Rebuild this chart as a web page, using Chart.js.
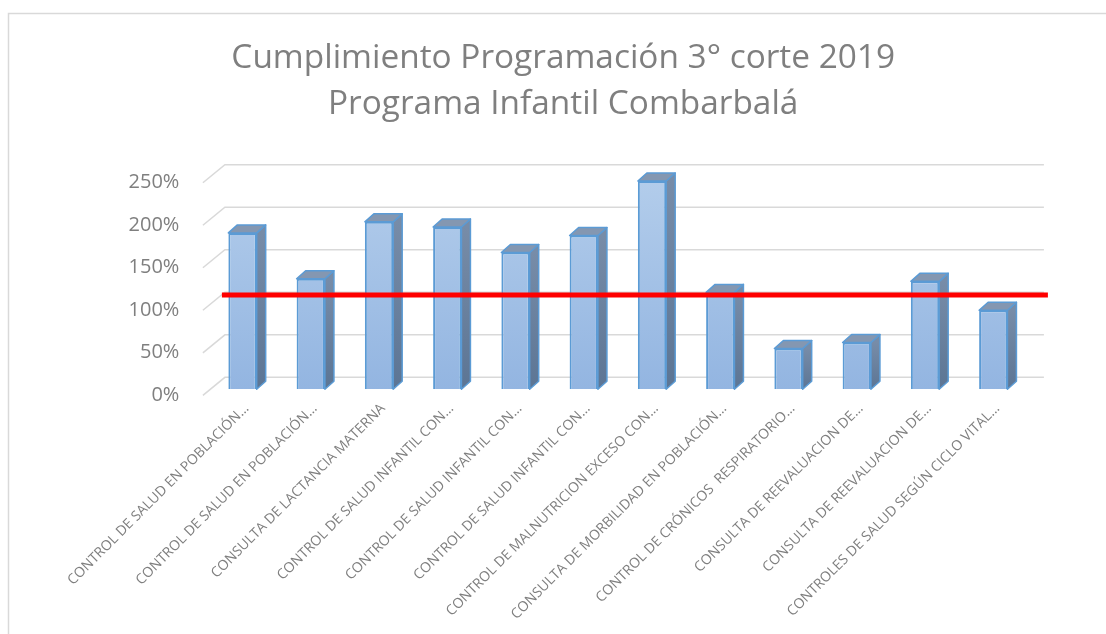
<!DOCTYPE html>
<html>
<head>
<meta charset="utf-8">
<script src="https://cdn.jsdelivr.net/npm/chart.js@4.4.0/dist/chart.umd.min.js"></script>
<style>
  html, body { margin: 0; padding: 0; background: #fff; }
</style>
</head>
<body>
<canvas id="grafico" width="1106" height="634"></canvas>
<script>
// Datos
const titulo = ['Cumplimiento Programación 3° corte 2019', 'Programa Infantil Combarbalá'];
const categorias = [
    'CONTROL DE SALUD EN POBLACIÓN…',
    'CONTROL DE SALUD EN POBLACIÓN…',
    'CONSULTA DE LACTANCIA MATERNA',
    'CONTROL DE SALUD INFANTIL CON…',
    'CONTROL DE SALUD INFANTIL CON…',
    'CONTROL DE SALUD INFANTIL CON…',
    'CONTROL DE MALNUTRICION EXCESO CON…',
    'CONSULTA DE MORBILIDAD EN POBLACIÓN…',
    'CONTROL DE CRÓNICOS  RESPIRATORIO…',
    'CONSULTA DE REEVALUACION DE…',
    'CONSULTA DE REEVALUACION DE…',
    'CONTROLES DE SALUD SEGÚN CICLO VITAL…'
];
const cumplimiento = [1.84, 1.30, 1.97, 1.91, 1.61, 1.81, 2.45, 1.14, 0.48, 0.55, 1.27, 0.93];
const meta = 1.11;
const ticksY = [0, 0.5, 1, 1.5, 2, 2.5];

const gris = '#7f7f7f';
const azulBorde = '#5b9bd5';

// Fondo y marco del gráfico
const marco = {
    id: 'marco',
    beforeDraw(chart) {
        const ctx = chart.ctx;
        ctx.save();
        ctx.fillStyle = '#fff';
        ctx.fillRect(0, 0, chart.width, chart.height);
        ctx.strokeStyle = '#d9d9d9';
        ctx.lineWidth = 1.5;
        ctx.strokeRect(8.5, 13.5, chart.width + 20, chart.height + 20);
        ctx.restore();
    }
};

// Rejilla en perspectiva, caras 3D de las barras y línea de meta
const efecto3d = {
    id: 'efecto3d',
    beforeDatasetsDraw(chart) {
        const { ctx, chartArea: a, scales: { y } } = chart;
        ctx.save();
        ctx.strokeStyle = '#d9d9d9';
        ctx.lineWidth = 1.5;
        y.ticks.forEach(t => {
            const py = y.getPixelForValue(t.value);
            ctx.beginPath();
            ctx.moveTo(a.left - 5.5, py + 6);
            ctx.lineTo(a.left + 16.5, py - 12);
            ctx.lineTo(a.right + 16.5, py - 12);
            ctx.stroke();
        });

        const dx = 9, dy = -8;
        ctx.lineWidth = 1.5;
        ctx.lineJoin = 'round';
        ctx.strokeStyle = azulBorde;
        chart.getDatasetMeta(0).data.forEach(bar => {
            const { x, y: top, base, width } = bar.getProps(['x', 'y', 'base', 'width'], true);
            const l = x - width / 2, r = x + width / 2;

            // cara lateral
            const gLat = ctx.createLinearGradient(0, top, 0, base);
            gLat.addColorStop(0, '#778ca8');
            gLat.addColorStop(1, '#5c7594');
            ctx.beginPath();
            ctx.moveTo(r, top);
            ctx.lineTo(r + dx, top + dy);
            ctx.lineTo(r + dx, base + dy);
            ctx.lineTo(r, base);
            ctx.closePath();
            ctx.fillStyle = gLat;
            ctx.fill();
            ctx.stroke();

            // cara superior
            ctx.beginPath();
            ctx.moveTo(l, top);
            ctx.lineTo(l + dx, top + dy);
            ctx.lineTo(r + dx, top + dy);
            ctx.lineTo(r, top);
            ctx.closePath();
            ctx.fillStyle = '#8497b1';
            ctx.fill();
            ctx.stroke();
        });
        ctx.restore();
    },
    afterDatasetsDraw(chart) {
        const { ctx, chartArea: a, scales: { y } } = chart;
        const py = y.getPixelForValue(meta);
        ctx.save();
        ctx.strokeStyle = '#ff0000';
        ctx.lineWidth = 5;
        ctx.beginPath();
        ctx.moveTo(a.left + 13.5, py);
        ctx.lineTo(a.right + 20.5, py);
        ctx.stroke();
        ctx.restore();
    }
};

new Chart(document.getElementById('grafico'), {
    type: 'bar',
    data: {
        labels: categorias,
        datasets: [{
            data: cumplimiento,
            backgroundColor: context => {
                const area = context.chart.chartArea;
                if (!area) return '#a4c2e6';
                const g = context.chart.ctx.createLinearGradient(0, area.top, 0, area.bottom);
                g.addColorStop(0, '#b3cdeb');
                g.addColorStop(1, '#93b5e1');
                return g;
            },
            borderColor: azulBorde,
            borderWidth: 2,
            categoryPercentage: 1,
            barPercentage: 0.415
        }]
    },
    options: {
        responsive: false,
        animation: false,
        devicePixelRatio: 1,
        layout: { padding: { left: 99, right: 78.6, top: 0, bottom: 0 } },
        plugins: {
            legend: { display: false },
            tooltip: { enabled: false },
            title: {
                display: true,
                text: titulo,
                color: gris,
                font: { family: 'Open Sans', size: 33.4, weight: 'normal', lineHeight: 1.377 },
                padding: { top: 35, bottom: 49.8 }
            }
        },
        scales: {
            x: {
                grid: { display: false, drawTicks: false },
                border: { display: false },
                ticks: {
                    autoSkip: false,
                    minRotation: 45,
                    maxRotation: 45,
                    padding: 11,
                    labelOffset: 4,
                    color: gris,
                    font: { family: 'Open Sans', size: 14 }
                },
                afterFit: s => { s.height = 244.7; }
            },
            y: {
                min: 0,
                max: 2.5,
                afterBuildTicks: s => { s.ticks = ticksY.map(v => ({ value: v })); },
                grid: { display: false, drawTicks: false },
                border: { display: false },
                ticks: {
                    padding: 29,
                    labelOffset: 6,
                    color: gris,
                    font: { family: 'Open Sans', size: 20 },
                    callback: v => Math.round(v * 100) + '%'
                },
                afterFit: s => { s.width = 109.4; }
            }
        }
    },
    plugins: [marco, efecto3d]
});
</script>
</body>
</html>
